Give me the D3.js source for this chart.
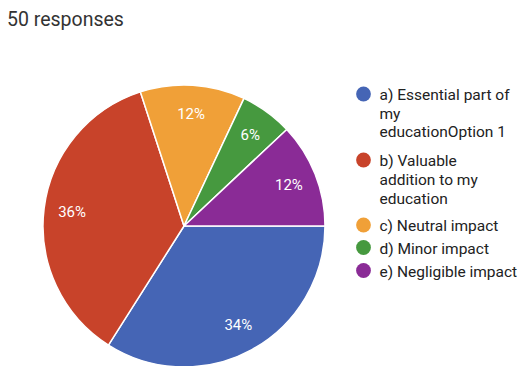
<!DOCTYPE html>
<html>
<head>
<meta charset="utf-8">
<script src="https://cdn.jsdelivr.net/npm/d3@7"></script>
<style>
  html, body { margin: 0; padding: 0; background: #ffffff; }
  svg { display: block; font-family: Roboto, "Noto Sans", Arial, sans-serif; }
</style>
</head>
<body>
<svg id="chart" width="519" height="366"></svg>
<script>
// Survey answers (50 responses)
const categories = [
  "a) Essential part of my educationOption 1",
  "b) Valuable addition to my education",
  "c) Neutral impact",
  "d) Minor impact",
  "e) Negligible impact"
];
const shares = [34, 36, 12, 6, 12];
const legendLines = [
  ["a) Essential part of", "my", "educationOption 1"],
  ["b) Valuable", "addition to my", "education"],
  ["c) Neutral impact"],
  ["d) Minor impact"],
  ["e) Negligible impact"]
];
const colors = ["#4565b5", "#c8432a", "#f0a038", "#46993f", "#8a2b96"];
const title = "50 responses";

const svg = d3.select("#chart");

svg.append("text")
  .attr("x", 7)
  .attr("y", 26)
  .attr("font-size", 19.5)
  .attr("fill", "#333333")
  .text(title);

const cx = 184, cy = 226, r = 141;

const pie = d3.pie()
  .sort(null)
  .value(d => d)
  .startAngle(Math.PI / 2)
  .endAngle(Math.PI / 2 + 2 * Math.PI);

const arcs = pie(shares);
const arc = d3.arc().innerRadius(0).outerRadius(r);
const labelArc = d3.arc().innerRadius(r * 0.8).outerRadius(r * 0.8);

const g = svg.append("g").attr("transform", `translate(${cx},${cy})`);

g.selectAll("path.slice")
  .data(arcs)
  .join("path")
  .attr("class", "slice")
  .attr("d", arc)
  .attr("fill", (d, i) => colors[i])
  .attr("stroke", "#ffffff")
  .attr("stroke-width", 1.5)
  .attr("stroke-linejoin", "round");

g.selectAll("text.pct")
  .data(arcs)
  .join("text")
  .attr("class", "pct")
  .attr("transform", d => `translate(${labelArc.centroid(d)})`)
  .attr("text-anchor", "middle")
  .attr("dy", "0.36em")
  .attr("font-size", 15)
  .attr("fill", "#ffffff")
  .text(d => d.data + "%");

// Legend: one dot per answer, wrapped label lines beside it
const legendBaselines = [[100, 118.5, 137], [166, 184.5, 203.5], [231], [253.5], [276.5]];
const legend = svg.append("g");
categories.forEach((c, i) => {
  const item = legend.append("g").attr("class", "legend-item").attr("data-name", c);
  item.append("circle")
    .attr("cx", 363.5)
    .attr("cy", legendBaselines[i][0] - 6)
    .attr("r", 7.4)
    .attr("fill", colors[i]);
  legendLines[i].forEach((line, j) => {
    item.append("text")
      .attr("x", 379.5)
      .attr("y", legendBaselines[i][j])
      .attr("font-size", 15.5)
      .attr("fill", "#222222")
      .text(line);
  });
});
</script>
</body>
</html>
